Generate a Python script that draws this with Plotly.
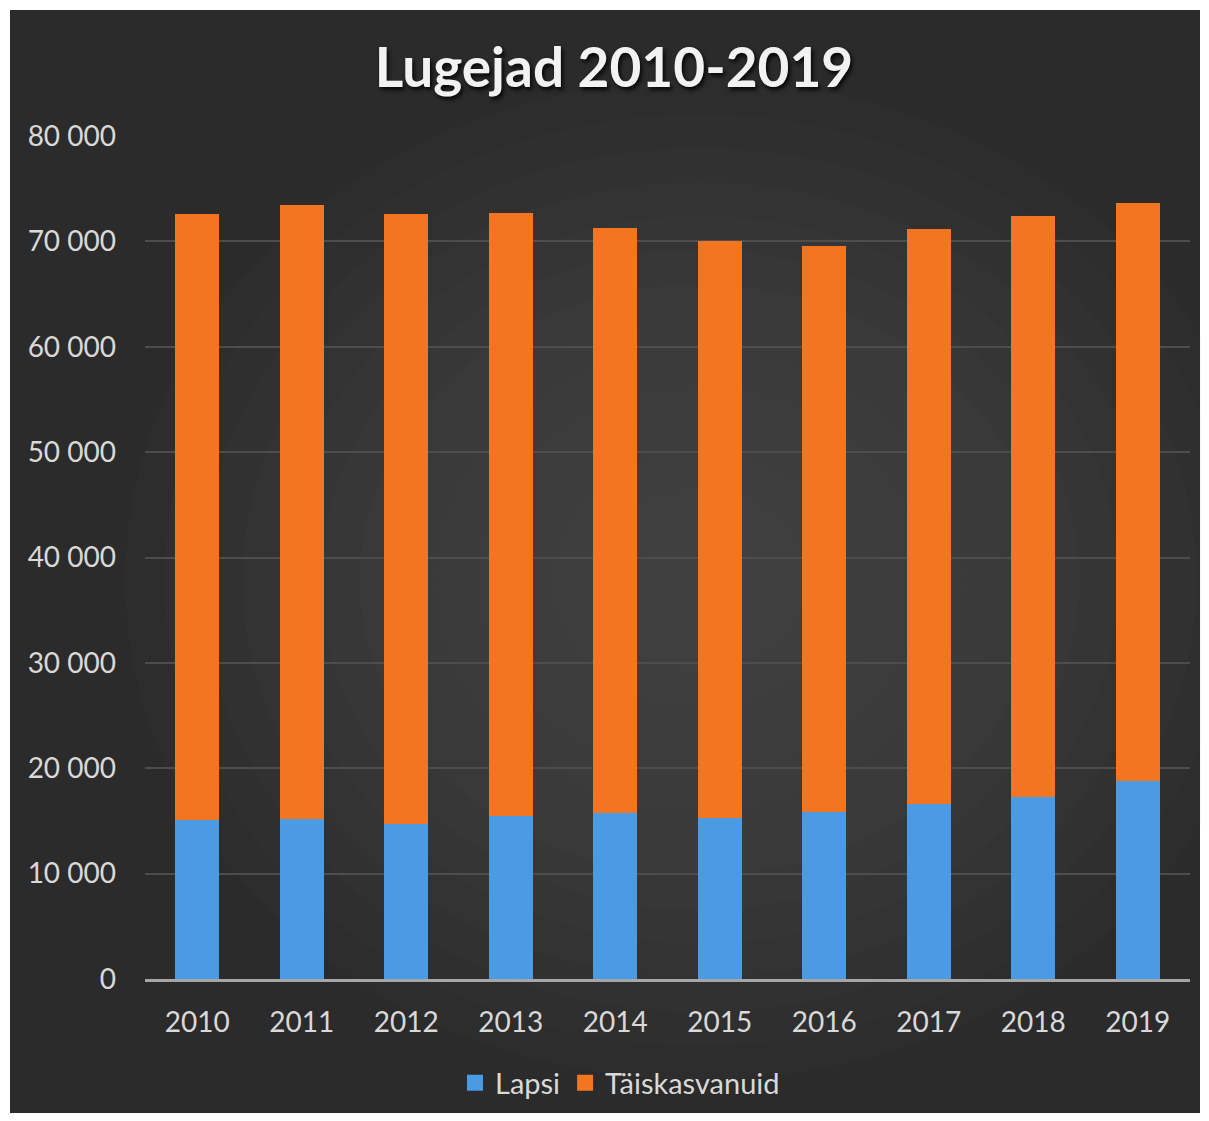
import plotly.graph_objects as go

# Datos
years = ["2010", "2011", "2012", "2013", "2014", "2015", "2016", "2017", "2018", "2019"]
lapsi = [15100, 15200, 14700, 15500, 15750, 15300, 15850, 16600, 17250, 18800]
taiskasvanuid = [57500, 58250, 57900, 57200, 55500, 54750, 53700, 54550, 55150, 54850]

BLUE = "#4a9ae4"
ORANGE = "#f47520"

# la página tiene 8px de margen en el body
OFF = 8
W, H = 1209 - 2 * OFF, 1121 - 2 * OFF
L, R, T, B = 145 - OFF, 1190 - OFF, 136 - OFF, 979 - OFF  # área del gráfico


def px_x(p):
    return (p - OFF - L) / (R - L)


def px_y(p):
    return (B - (p - OFF)) / (B - T)


fig = go.Figure()
fig.add_trace(go.Bar(x=years, y=lapsi, name="Lapsi", showlegend=False,
                     marker=dict(color=BLUE, line_width=0)))
fig.add_trace(go.Bar(x=years, y=taiskasvanuid, name="Täiskasvanuid", showlegend=False,
                     marker=dict(color=ORANGE, line_width=0)))

# entradas de leyenda con cuadrados más grandes
for name, col in [("Lapsi", BLUE), ("Täiskasvanuid", ORANGE)]:
    fig.add_trace(go.Scatter(x=[None], y=[None], mode="markers", name=name,
                             marker=dict(symbol="square", size=18, color=col)))

# Fondo oscuro con borde blanco y un brillo radial aproximado
shapes = [dict(type="rect", xref="paper", yref="paper", layer="below",
               x0=px_x(10), x1=px_x(1200), y0=px_y(1113), y1=px_y(10),
               fillcolor="#2b2b2b", line_width=0)]
cx, cy = 700, 580
for i in range(14):
    r = 500 - i * 34
    shapes.append(dict(type="circle", xref="paper", yref="paper", layer="below",
                       x0=px_x(cx - r * 1.15), x1=px_x(cx + r * 1.15),
                       y0=px_y(cy + r), y1=px_y(cy - r),
                       fillcolor="rgba(105,105,105,0.035)", line_width=0))

fig.update_layout(
    width=W, height=H,
    barmode="stack", bargap=0.58,
    paper_bgcolor="white", plot_bgcolor="rgba(0,0,0,0)",
    margin=dict(l=L, r=W - R, t=T, b=H - B),
    font=dict(family="Lato, Open Sans, sans-serif", color="#d9d9d9", size=28),
    title=dict(text="<b>Lugejad 2010-2019</b>", xref="container", yref="container",
               x=606 / W, y=1 - 60 / H, xanchor="center", yanchor="middle",
               font=dict(size=55, color="#f2f2f2", shadow="2px 3px 4px rgba(0,0,0,0.85)")),
    shapes=shapes,
    legend=dict(orientation="h", xref="container", yref="container",
                x=612 / W, y=1 - 1075 / H, xanchor="center", yanchor="middle",
                font=dict(size=29, color="#d9d9d9"), bgcolor="rgba(0,0,0,0)",
                traceorder="normal"),
    xaxis=dict(showgrid=False, zeroline=False, showline=True, linecolor="#a6a6a6",
               linewidth=3, ticks="", ticklabelstandoff=16,
               tickfont=dict(size=28, color="#d9d9d9")),
    yaxis=dict(range=[0, 80000], dtick=10000, showgrid=True, gridcolor="#4d4d4d",
               gridwidth=2, zeroline=False, showline=False, ticks="",
               ticklabelstandoff=28, tickformat=",d",
               tickfont=dict(size=28, color="#d9d9d9")),
    separators=". ",
)

fig.write_html("out.html")
